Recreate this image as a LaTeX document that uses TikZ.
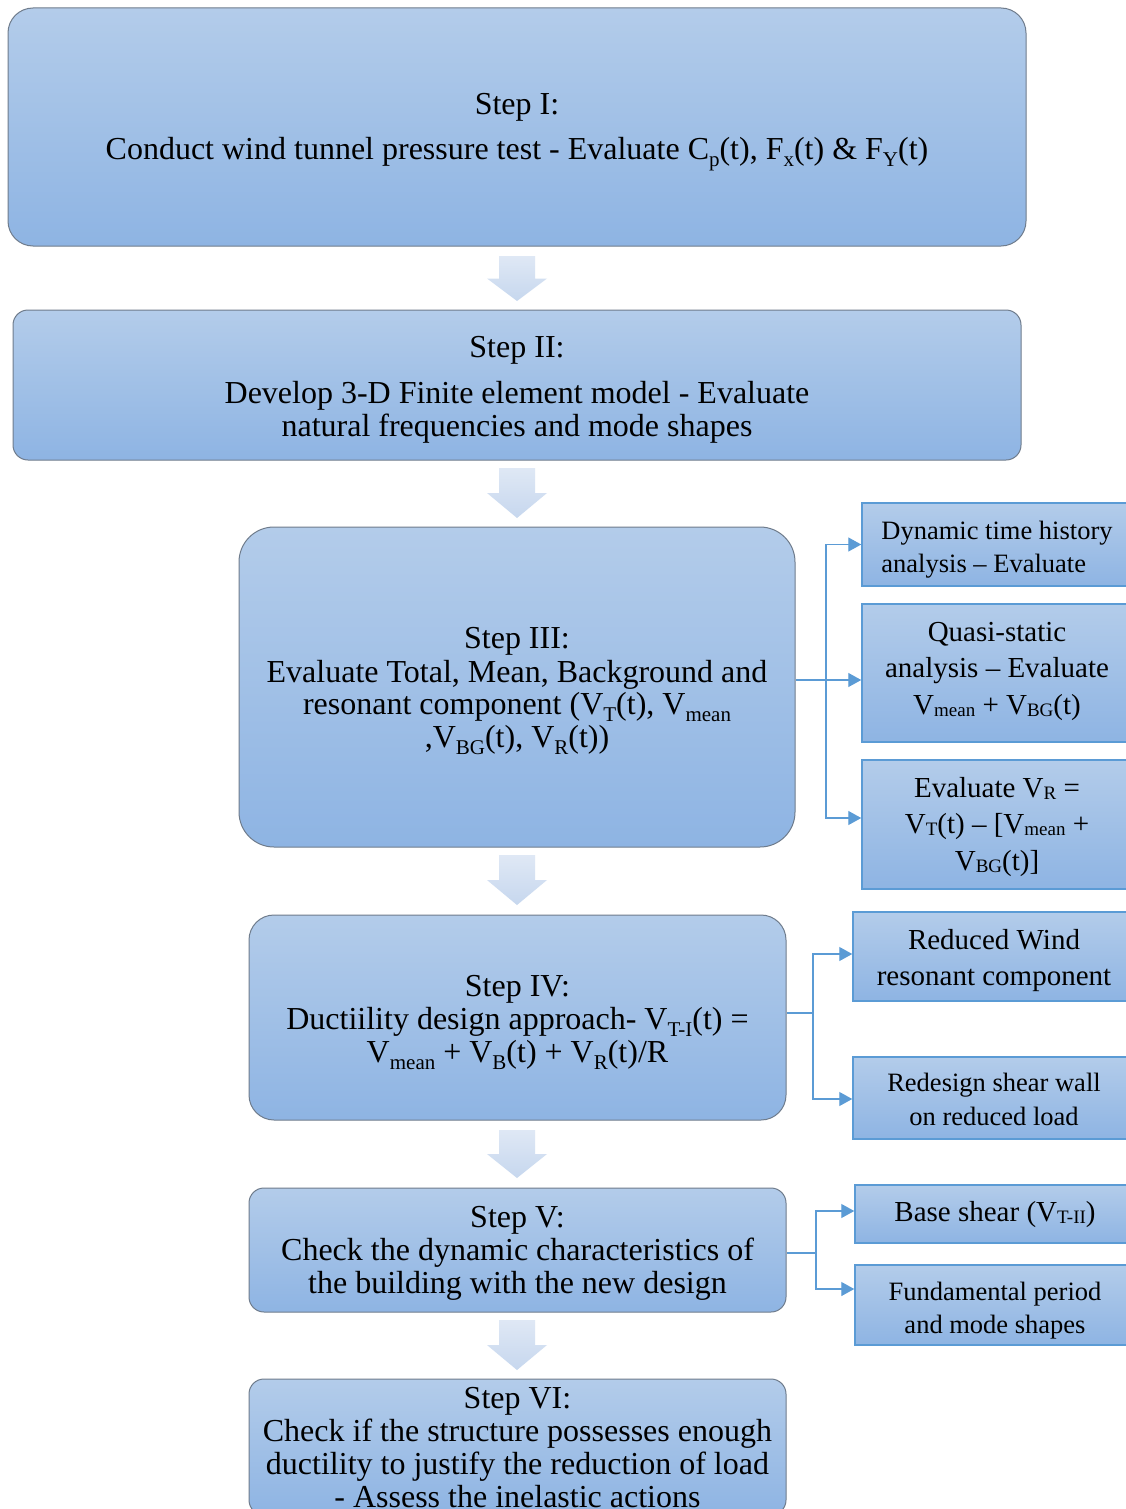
\documentclass[tikz,border=0pt]{standalone}
\usepackage{fontspec}
\setmainfont{Liberation Serif}
\usetikzlibrary{arrows.meta,calc}
\definecolor{boxtop}{HTML}{B3CCEA}
\definecolor{boxbot}{HTML}{8EB4E3}
\definecolor{boxedge}{HTML}{6F7C8C}
\definecolor{sideedge}{HTML}{5B9BD5}
\definecolor{linkblue}{HTML}{5B9BD5}
\definecolor{arrtop}{HTML}{DFE8F5}
\definecolor{arrbot}{HTML}{C6D7EE}
\newcommand{\Ls}[1]{\raisebox{-7pt}{\fontsize{21}{21}\selectfont #1}}
\newcommand{\Rs}[1]{\raisebox{-2pt}{\fontsize{19}{19}\selectfont #1}}
\newcommand{\blockdown}[2]{\path[blockarr] (499,#1) -- (535,#1) -- (535,{(#1+#2)/2}) -- (547,{(#1+#2)/2}) -- (517,#2) -- (487,{(#1+#2)/2}) -- (499,{(#1+#2)/2}) -- cycle;}
\tikzset{
 stepbox/.style={draw=boxedge, line width=1pt, top color=boxtop, bottom color=boxbot, inner sep=0pt},
 sidebox/.style={draw=sideedge, line width=1.5pt, top color=boxtop, bottom color=boxbot, inner sep=0pt},
 steptext/.style={inner sep=0pt, align=center, font=\fontsize{32}{33}\selectfont},
 sidesmall/.style={inner sep=0pt, align=center, font=\fontsize{26.5}{33.5}\selectfont},
 sidelarge/.style={inner sep=0pt, align=center, font=\fontsize{29}{36.5}\selectfont},
 conn/.style={draw=linkblue, line width=1.3pt, -{Triangle[length=13pt,width=14pt]}},
 plainlink/.style={draw=linkblue, line width=1.3pt},
 blockarr/.style={top color=arrtop, bottom color=arrbot, draw=none}
}
\begin{document}
\begin{tikzpicture}[x=1pt,y=-1pt]
\useasboundingbox (0,0) rectangle (1126,1509);
\fill[white] (0,0) rectangle (1126,1509);
\clip (0,0) rectangle (1126,1509);

% main step boxes
\node[stepbox, rounded corners=25pt, minimum width=1018pt, minimum height=238pt] (s1) at (517,127) {};
\node[stepbox, rounded corners=15pt, minimum width=1008pt, minimum height=150pt] (s2) at (517,385) {};
\node[stepbox, rounded corners=35pt, minimum width=556pt, minimum height=320pt] (s3) at (517,687) {};
\node[stepbox, rounded corners=25pt, minimum width=537pt, minimum height=205pt] (s4) at (517.5,1017.5) {};
\node[stepbox, rounded corners=15pt, minimum width=537pt, minimum height=124pt] (s5) at (517.5,1250) {};
\node[stepbox, rounded corners=15pt, minimum width=537pt, minimum height=136pt] (s6) at (517.5,1447) {};

% main step texts
\node[steptext] (t1) at ($(s1.center)+(0,5)$)
 {Step I:\\[12pt]Conduct wind tunnel pressure test - Evaluate C\Ls{p}(t), F\Ls{x}(t) \& F\Ls{Y}(t)};
\node[steptext] (t2) at ($(s2.center)+(0,4.5)$)
 {Step II:\\[13pt]Develop 3-D Finite element model - Evaluate\\natural frequencies and mode shapes};
\node[steptext] (t3) at ($(s3.center)+(0,4.5)$)
 {Step III:\\Evaluate Total, Mean, Background and\\resonant component (V\Ls{T}(t), V\Ls{mean}\\,V\Ls{BG}(t), V\Ls{R}(t))};
\node[steptext] (t4) at ($(s4.center)+(0,5)$)
 {Step IV:\\Ductiility design approach- V\Ls{T-I}(t) =\\V\Ls{mean} + V\Ls{B}(t) + V\Ls{R}(t)/R};
\node[steptext] (t5) at ($(s5.center)+(0,3.5)$)
 {Step V:\\Check the dynamic characteristics of\\the building with the new design};
\node[steptext] (t6) at ($(s6.center)+(0,1)$)
 {Step VI:\\Check if the structure possesses enough\\ductility to justify the reduction of load\\- Assess the inelastic actions};

% block arrows
\blockdown{256}{301}
\blockdown{468}{518}
\blockdown{855}{905}
\blockdown{1130}{1178}
\blockdown{1320}{1370}

% side boxes
\node[sidebox, minimum width=270pt, minimum height=83pt] (r1) at (997,544.5) {};
\node[sidebox, minimum width=270pt, minimum height=138pt] (r2) at (997,673) {};
\node[sidebox, minimum width=270pt, minimum height=129pt] (r3) at (997,824.5) {};
\node[sidebox, minimum width=282pt, minimum height=89pt] (r4) at (994,956.5) {};
\node[sidebox, minimum width=282pt, minimum height=82pt] (r5) at (994,1098) {};
\node[sidebox, minimum width=280pt, minimum height=58pt] (r6) at (995,1214) {};
\node[sidebox, minimum width=280pt, minimum height=80pt] (r7) at (995,1305) {};

% side texts
\node[sidesmall, align=left] (u1) at ($(r1.center)+(0,5)$)
 {Dynamic time history\\analysis -- Evaluate};
\node[sidelarge] (u2) at ($(r2.center)+(0,-2)$)
 {Quasi-static\\analysis -- Evaluate\\V\Rs{mean} + V\Rs{BG}(t)};
\node[sidelarge] (u3) at ($(r3.center)+(0,2.5)$)
 {Evaluate V\Rs{R} =\\V\Rs{T}(t) -- [V\Rs{mean} +\\V\Rs{BG}(t)]};
\node[sidelarge] (u4) at ($(r4.center)+(0,4)$)
 {Reduced Wind\\resonant component};
\node[sidesmall] (u5) at ($(r5.center)+(0,1.5)$)
 {Redesign shear wall\\on reduced load};
\node[sidelarge] (u6) at ($(r6.center)+(0,1)$)
 {Base shear (V\Rs{T-II})};
\node[sidesmall] (u7) at ($(r7.center)+(0,5.5)$)
 {Fundamental period\\and mode shapes};

% connectors
\coordinate (j3) at (826,680);
\draw[conn] (s3.east |- j3) -- (r2.west |- j3);
\draw[conn] (j3) |- (r1.west);
\draw[conn] (j3) |- ([yshift=6.5pt]r3.west);
\coordinate (j4) at (813,1013);
\draw[plainlink] (s4.east |- j4) -- (j4);
\draw[conn] (j4) |- ([yshift=2.5pt]r4.west);
\draw[conn] (j4) |- ([yshift=-1pt]r5.west);
\coordinate (j5) at (816,1253);
\draw[plainlink] (s5.east |- j5) -- (j5);
\draw[conn] (j5) |- ([yshift=3pt]r6.west);
\draw[conn] (j5) |- ([yshift=16pt]r7.west);
\end{tikzpicture}
\end{document}
